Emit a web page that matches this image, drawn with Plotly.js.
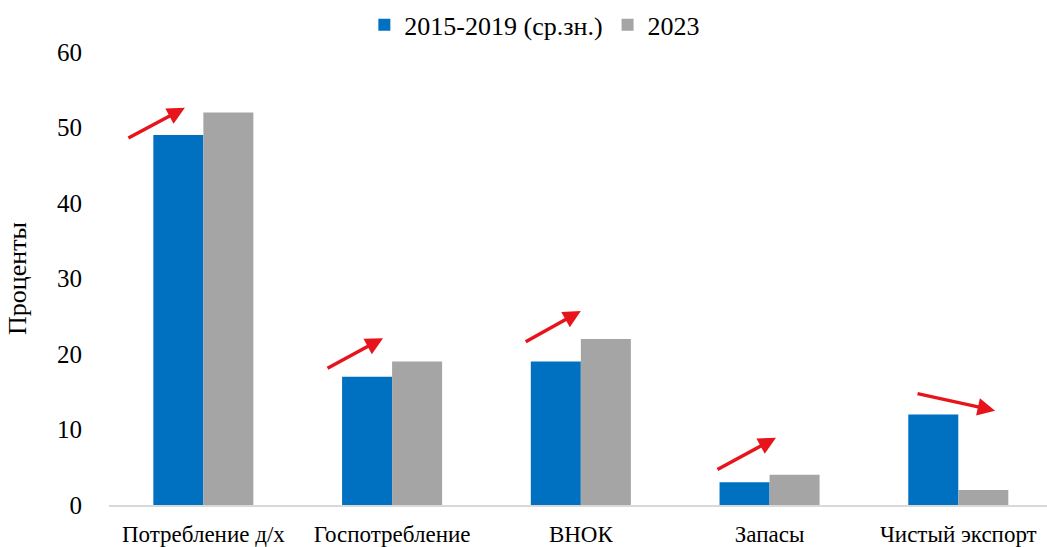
<!DOCTYPE html>
<html>
<head>
<meta charset="utf-8">
<script src="https://cdn.plot.ly/plotly-3.0.1.min.js"></script>
<style>html,body{margin:0;padding:0;background:#fff;}#chart{width:1047px;height:547px;}</style>
</head>
<body>
<div id="chart"></div>
<script>
const categories = ["Потребление д/х", "Госпотребление", "ВНОК", "Запасы", "Чистый экспорт"];
const avg2015_2019 = [49, 17, 19, 3, 12];
const y2023 = [52, 19, 22, 4, 2];
const seriesNames = ["2015-2019 (ср.зн.)", "2023"];
const yTicks = [0, 10, 20, 30, 40, 50, 60];

// arrow annotations: [tailX, tailY, headX, headY] in category-index / value units
const arrows = [
  [-0.405, 48.5, -0.098, 52.6],
  [0.65, 18.0, 0.952, 22.1],
  [1.70, 21.5, 2.0, 25.7],
  [2.716, 4.6, 3.034, 8.9],
  [3.776, 14.8, 4.195, 12.5]
];

const xIdx = categories.map((c, i) => i);
const font = "Liberation Serif, Times New Roman, serif";

const traces = [
  {type: "bar", x: xIdx, y: avg2015_2019, name: seriesNames[0], marker: {color: "#0070C0"}, hoverinfo: "skip"},
  {type: "bar", x: xIdx, y: y2023, name: seriesNames[1], marker: {color: "#A5A5A5"}, hoverinfo: "skip"}
];

const annotations = arrows.map(a => ({
  x: a[2], y: a[3], ax: a[0], ay: a[1],
  xref: "x", yref: "y", axref: "x", ayref: "y",
  text: "", showarrow: true, arrowhead: 2, arrowsize: 1, arrowwidth: 3.5, arrowcolor: "#E8141B"
}));

const layout = {
  width: 1047, height: 547,
  margin: {l: 109, r: 0, t: 52, b: 42},
  paper_bgcolor: "#fff", plot_bgcolor: "#fff",
  font: {family: font, color: "#000", size: 25},
  barmode: "group", bargap: 0.47, bargroupgap: 0,
  showlegend: true,
  legend: {orientation: "h", x: 0.454, xanchor: "center", y: 1.06, yanchor: "middle",
           font: {family: font, size: 26}, itemwidth: 30, tracegroupgap: 0},
  xaxis: {
    type: "linear", range: [-0.5, 4.47],
    tickvals: xIdx, ticktext: categories,
    showgrid: false, zeroline: false,
    showline: true, linecolor: "#D9D9D9", linewidth: 1.5,
    ticks: "outside", ticklen: 8, tickcolor: "rgba(0,0,0,0)",
    tickfont: {family: font, size: 23}
  },
  yaxis: {
    range: [0, 60], tickvals: yTicks,
    showgrid: false, zeroline: false, showline: false,
    ticks: "outside", ticklen: 21, tickcolor: "rgba(0,0,0,0)",
    tickfont: {family: font, size: 25},
    title: {text: "Проценты", font: {family: font, size: 26}, standoff: 22}
  },
  annotations: annotations
};

Plotly.newPlot("chart", traces, layout, {displayModeBar: false, staticPlot: true});
</script>
</body>
</html>
